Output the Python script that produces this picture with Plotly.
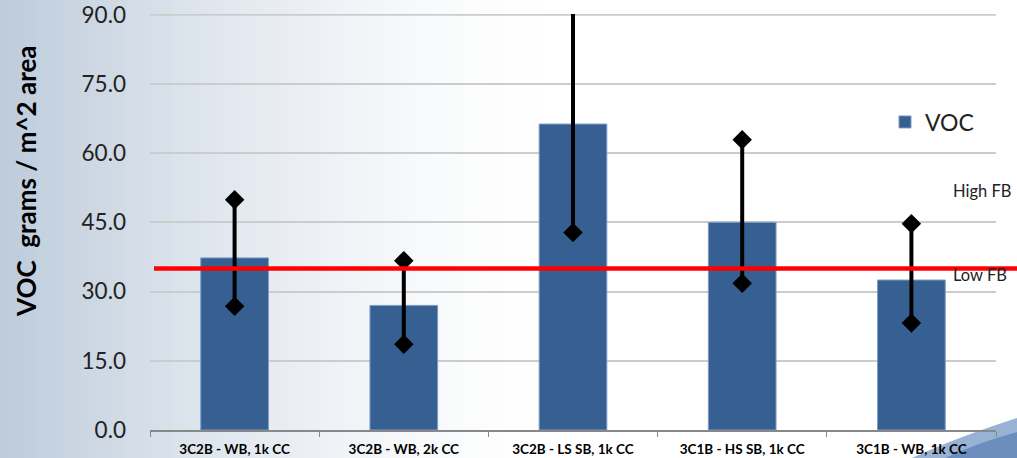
import plotly.graph_objects as go

categories = ["3C2B - WB, 1k CC", "3C2B - WB, 2k CC", "3C2B - LS SB, 1k CC",
              "3C1B - HS SB, 1k CC", "3C1B - WB, 1k CC"]
voc = [37.3, 27.0, 66.3, 45.0, 32.5]
err_high = [49.9, 36.7, 98.0, 62.9, 44.7]
err_low = [26.8, 18.6, 42.8, 31.8, 23.2]
low_fb_level = 35.0
y_ticks = [0, 15, 30, 45, 60, 75, 90]

W, H = 1017, 458
L, R, T, B = 150, 21, 14, 28
pw, ph = W - L - R, H - T - B

def px_x(p):
    return (p - L) / pw

def px_y(p):
    return (H - B - p) / ph

fig = go.Figure()
fig.add_trace(go.Bar(
    x=categories, y=voc, name="VOC", width=0.4,
    marker=dict(color="#366092", line=dict(color="#7f9cc4", width=1)),
))
for c, lo, hi in zip(categories, err_low, err_high):
    fig.add_trace(go.Scatter(
        x=[c, c], y=[lo, hi], mode="lines+markers", showlegend=False,
        line=dict(color="black", width=4),
        marker=dict(symbol="diamond", size=15, color="black"),
        hoverinfo="skip",
    ))

shapes = []
# background gradient strips (left side bluish fading to white)
n = 60
x_end = 540
for i in range(n):
    a = i / n
    x0 = x_end * a
    x1 = x_end * (i + 1) / n + 1
    t = (1 - a) ** 1.5
    r = int(255 - (255 - 190) * t)
    g = int(255 - (255 - 204) * t)
    b = int(255 - (255 - 220) * t)
    shapes.append(dict(type="rect", xref="paper", yref="paper",
                       x0=px_x(x0), x1=px_x(x1), y0=px_y(H), y1=px_y(0),
                       fillcolor=f"rgb({r},{g},{b})", line=dict(width=0),
                       layer="below"))
# bottom-right blue swoosh
p = lambda x, y: f"{px_x(x)},{px_y(y)}"
shapes.append(dict(type="path", xref="paper", yref="paper",
                   path=f"M {p(912, 458)} Q {p(955, 438)} {p(1017, 418)} L {p(1017, 458)} Z",
                   fillcolor="rgba(135,165,205,0.85)", line=dict(width=0), layer="below"))
shapes.append(dict(type="path", xref="paper", yref="paper",
                   path=f"M {p(945, 458)} Q {p(980, 442)} {p(1017, 432)} L {p(1017, 458)} Z",
                   fillcolor="rgba(95,132,185,0.8)", line=dict(width=0), layer="below"))
# top gridline (range end)
shapes.append(dict(type="line", xref="paper", yref="y", x0=0, x1=1,
                   y0=y_ticks[-1], y1=y_ticks[-1],
                   line=dict(color="#cccccc", width=2), layer="below"))
# red line
shapes.append(dict(type="line", xref="paper", yref="y",
                   x0=px_x(154), x1=px_x(1017), y0=low_fb_level, y1=low_fb_level,
                   line=dict(color="#ff0000", width=4.5)))

annotations = [
    dict(text="VOC\u00a0 grams / m^2 area", xref="paper", yref="paper",
         x=px_x(8), y=px_y(181), textangle=-90, showarrow=False,
         font=dict(family="Lato", size=26, color="black", weight="bold")),
    dict(text="High FB", xref="paper", yref="paper", x=px_x(951), y=px_y(191),
         xanchor="left", yanchor="middle", showarrow=False,
         font=dict(family="Lato", size=16.5, color="#222222")),
    dict(text="Low FB", xref="paper", yref="paper", x=px_x(951), y=px_y(275),
         xanchor="left", yanchor="middle", showarrow=False,
         font=dict(family="Lato", size=16.5, color="#222222")),
]

fig.update_layout(
    width=W, height=H, margin=dict(l=L, r=R, t=T, b=B, pad=0, autoexpand=False),
    paper_bgcolor="white", plot_bgcolor="rgba(0,0,0,0)",
    shapes=shapes, annotations=annotations,
    showlegend=True,
    legend=dict(x=px_x(885), y=px_y(122), xanchor="left", yanchor="middle",
                bgcolor="rgba(0,0,0,0)", font=dict(family="Lato", size=23, color="#222222")),
    xaxis=dict(tickson="boundaries", ticks="outside", ticklen=5, tickcolor="#888888",
               showline=True, linecolor="#888888", linewidth=2, showgrid=False,
               automargin=False, ticklabelstandoff=6,
               tickfont=dict(family="Lato", size=13.5, color="black", weight="bold")),
    yaxis=dict(range=[0, 90.15], tickvals=y_ticks, tickformat=".1f",
               showgrid=True, gridcolor="#cccccc", gridwidth=2, zeroline=False,
               ticks="", ticklabelstandoff=23, automargin=False,
               tickfont=dict(family="Lato", size=22.5, color="#222222")),
    bargap=0.6,
)

fig.write_html("out.html", config={"displayModeBar": False},
               post_script="document.body.style.margin='0';document.body.style.overflow='hidden';")
